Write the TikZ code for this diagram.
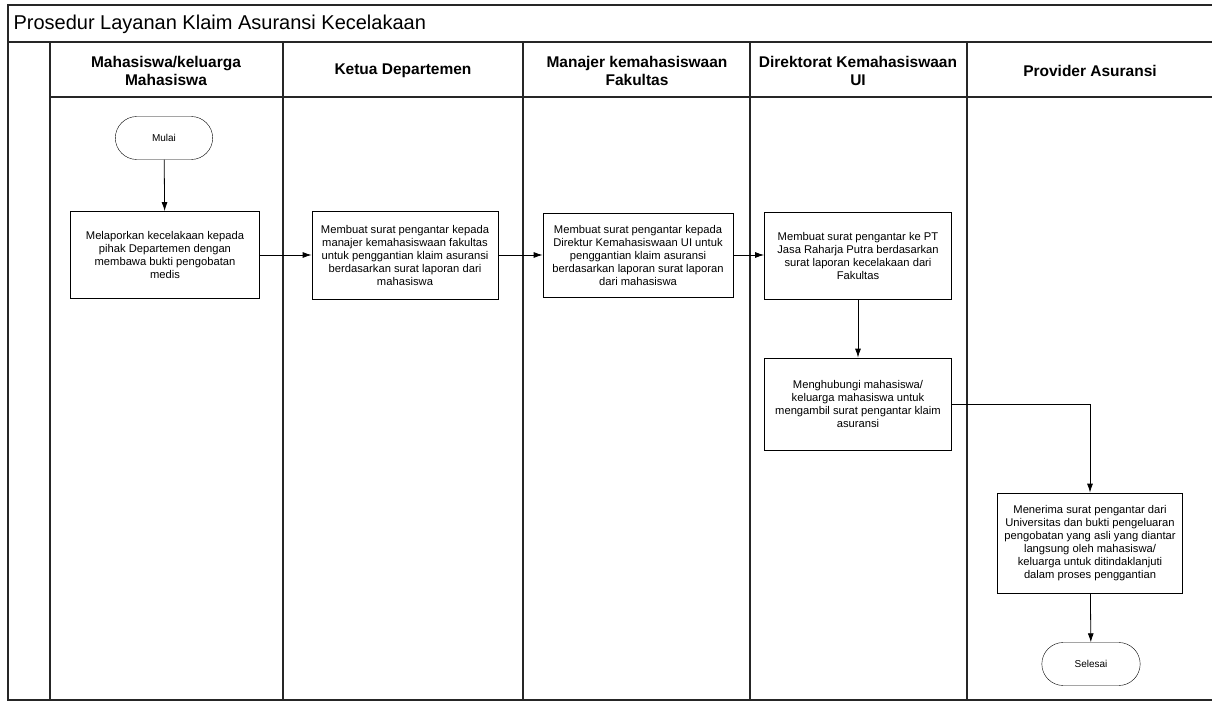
\documentclass[tikz,border=0pt]{standalone}
\usepackage{fontspec}
\setmainfont{Liberation Sans}
\usetikzlibrary{arrows.meta, positioning, shapes.misc}

\begin{document}
\begin{tikzpicture}[x=1pt, y=-1pt,
    box/.style={draw, thick, minimum width=188pt, minimum height=88pt, align=center, inner sep=2pt, font=\fontsize{11.2}{13}\selectfont},
    term/.style={draw, rounded rectangle, minimum width=104pt, minimum height=43pt, font=\fontsize{10}{12}\selectfont},
    lane/.style={align=center, font=\bfseries\fontsize{15.5}{18}\selectfont},
    frame/.style={line width=1.2pt, black!85},
    arr/.style={-{Latex[length=9pt, width=6pt]}, thick},
    >=Latex
]
\useasboundingbox (0,0) rectangle (1212,703);

% Frame and lanes
\draw[frame] (1212,5) -- (8,5) -- (8,700) -- (1212,700);
\draw[frame] (8,42) -- (1212,42);
\draw[frame] (50,97) -- (1212,97);
\foreach \lx in {50, 283, 523, 750, 967}
    \draw[frame] (\lx,42) -- (\lx,700);

% Title
\node[anchor=west, font=\fontsize{20}{24}\selectfont] (title) at (10,24) {Prosedur Layanan Klaim Asuransi Kecelakaan};

% Lane headers
\node[lane] (hmhs) at (166,71) {Mahasiswa/keluarga\\Mahasiswa};
\node[lane] (hdep) at (403,71) {Ketua Departemen};
\node[lane] (hfak) at (637,71) {Manajer kemahasiswaan\\Fakultas};
\node[lane] (hdir) at (858,71) {Direktorat Kemahasiswaan\\UI};
\node[lane] (hprov) at (1090,71) {Provider Asuransi};

% Start
\node[term] (mulai) at (164,138) {Mulai};

% Mahasiswa
\node[box, minimum width=189pt, minimum height=87pt] (lapor) at (165,255) {Melaporkan kecelakaan kepada\\pihak Departemen dengan\\membawa bukti pengobatan\\medis};
\draw[arr] (mulai) -- (lapor);

% Ketua Departemen
\node[box, minimum width=186pt] (dep) at (405,255) {Membuat surat pengantar kepada\\manajer kemahasiswaan fakultas\\untuk penggantian klaim asuransi\\berdasarkan surat laporan dari\\mahasiswa};
\draw[arr] (lapor) -- (dep);

% Manajer Fakultas
\node[box, minimum width=190pt, minimum height=84pt] (fak) at (638,255) {Membuat surat pengantar kepada\\Direktur Kemahasiswaan UI untuk\\penggantian klaim asuransi\\berdasarkan laporan surat laporan\\dari mahasiswa};
\draw[arr] (dep) -- (fak);

% Direktorat
\node[box, minimum width=187pt, minimum height=87pt] (dir) at (858,256) {Membuat surat pengantar ke PT\\Jasa Raharja Putra berdasarkan\\surat laporan kecelakaan dari\\Fakultas};
\draw[arr] (fak) -- (fak -| dir.west);

\node[box, minimum width=187pt, minimum height=92pt] (hub) at (858,404) {Menghubungi mahasiswa/\\keluarga mahasiswa untuk\\mengambil surat pengantar klaim\\asuransi};
\draw[arr] (dir) -- (hub);

% Provider
\node[box, minimum width=185pt, minimum height=100pt] (terima) at (1090,543) {Menerima surat pengantar dari\\Universitas dan bukti pengeluaran\\pengobatan yang asli yang diantar\\langsung oleh mahasiswa/\\keluarga untuk ditindaklanjuti\\dalam proses penggantian};
\draw[arr] (hub) -| (terima);

% End
\node[term, minimum width=105pt] (selesai) at (1091,664) {Selesai};
\draw[arr] (terima) -- (selesai);

\end{tikzpicture}
\end{document}
